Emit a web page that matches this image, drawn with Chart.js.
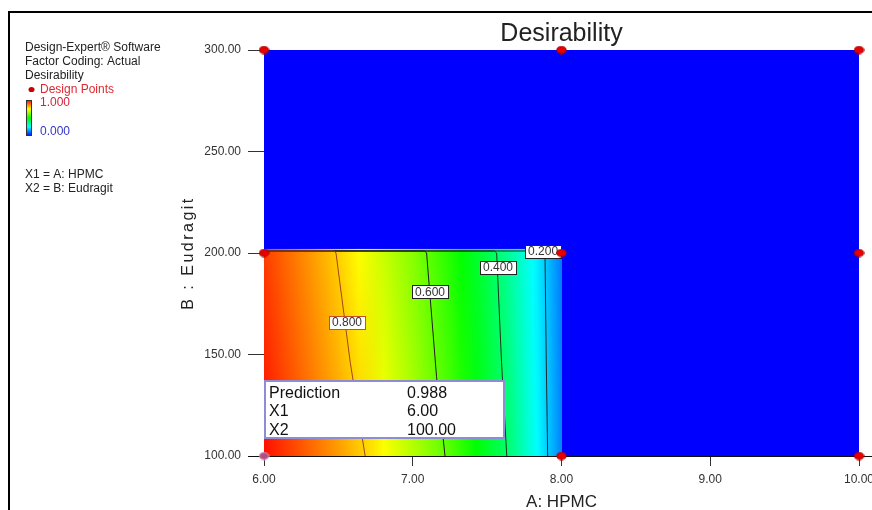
<!DOCTYPE html>
<html>
<head>
<meta charset="utf-8">
<script src="https://cdn.jsdelivr.net/npm/chart.js@4.4.1/dist/chart.umd.min.js"></script>
<style>
  html, body { margin: 0; padding: 0; background: #fff; overflow: hidden; }
  #wrap { position: relative; width: 872px; height: 510px; }
</style>
</head>
<body>
<div id="wrap"><canvas id="c" width="872" height="510"></canvas></div>
<script>
// ---- Axis ticks ----
const hpmcTicks = [6, 7, 8, 9, 10];
const eudragitTicks = [100, 150, 200, 250, 300];

// ---- Design points (A: HPMC, B: Eudragit) ----
const designA = [6, 6, 6, 8, 8, 8, 10, 10, 10];
const designB = [100, 200, 300, 100, 200, 300, 100, 200, 300];

// ---- Desirability field over the fitted region ----
const gridA = [6.0, 6.25, 6.5, 6.75, 7.0, 7.25, 7.5, 7.625, 7.75, 7.875, 8.0];
const gridB = [100, 202];
const desirAtLowB  = [0.988, 0.918, 0.848, 0.771, 0.679, 0.584, 0.464, 0.404, 0.314, 0.223, 0.13];
const desirAtHighB = [0.940, 0.868, 0.795, 0.713, 0.631, 0.533, 0.427, 0.362, 0.286, 0.209, 0.12];

// ---- Contour lines ----
const contourLevels = [0.8, 0.6, 0.4, 0.2];
const contourA = [
  [6.68, 6.58, 6.484, 6.47, 6.0],
  [7.217, 7.16, 7.093, 7.08, 6.0],
  [7.632, 7.597, 7.564, 7.55, 6.0],
  [7.907, 7.897, 7.889, 7.875, 6.0]
];
const contourB = [
  [100, 146, 200, 201, 201],
  [100, 139, 200, 201, 201],
  [100, 146, 200, 201, 201],
  [100, 150, 200, 201, 201]
];
const contourLabelA = [6.558, 7.116, 7.573, 7.876];
const contourLabelB = [166.0, 180.8, 193.1, 200.7];

// ---- Prediction flag ----
const predA = 6.00;
const predB = 100.00;
const predValue = 0.988;

const FONT = '"Liberation Sans", Arial, sans-serif';
const contourColors = ['#a8401e', '#1e1e1e', '#1e361e', '#1c2a2a'];
const labelBorders = ['#c05030', '#222', '#222', '#222'];

// Blue -> cyan -> green -> yellow -> red
const cmap = [
  [0.00, [0, 0, 255]],
  [0.25, [0, 255, 255]],
  [0.50, [0, 255, 0]],
  [0.75, [255, 255, 0]],
  [1.00, [255, 0, 0]]
];
function colorFor(v) {
  v = Math.max(0, Math.min(1, v));
  for (let i = 1; i < cmap.length; i++) {
    if (v <= cmap[i][0]) {
      const [v0, c0] = cmap[i - 1], [v1, c1] = cmap[i];
      const t = (v - v0) / (v1 - v0);
      const c = c0.map((a, k) => Math.round(a + (c1[k] - a) * t));
      return `rgb(${c[0]},${c[1]},${c[2]})`;
    }
  }
  return 'rgb(255,0,0)';
}
function interp(xs, ys, x) {
  if (x <= xs[0]) return ys[0];
  for (let i = 1; i < xs.length; i++) {
    if (x <= xs[i]) {
      const t = (x - xs[i - 1]) / (xs[i] - xs[i - 1]);
      return ys[i - 1] + (ys[i] - ys[i - 1]) * t;
    }
  }
  return ys[ys.length - 1];
}

function ellipseImg(fill, stroke, w, h) {
  const c = document.createElement('canvas');
  c.width = w; c.height = h;
  const g = c.getContext('2d');
  g.beginPath();
  g.ellipse(w / 2, h / 2, w / 2 - 0.8, h / 2 - 0.8, 0, 0, Math.PI * 2);
  g.fillStyle = fill; g.fill();
  g.lineWidth = 1; g.strokeStyle = stroke; g.stroke();
  return c;
}
const pointImg = ellipseImg('#e80000', '#a00000', 11, 9);
const flagImg = ellipseImg('#b0507e', '#d8a0c8', 11, 9);

// Desirability surface painted under the datasets
const fieldPlugin = {
  id: 'field',
  beforeDatasetsDraw(chart) {
    const { ctx, chartArea: area, scales: { x, y } } = chart;
    ctx.save();
    ctx.beginPath();
    ctx.rect(area.left, area.top, area.width, area.height);
    ctx.clip();
    ctx.fillStyle = colorFor(0);
    ctx.fillRect(area.left, area.top, area.width, area.height);
    const px0 = Math.round(x.getPixelForValue(gridA[0]));
    const px1 = Math.round(x.getPixelForValue(gridA[gridA.length - 1]));
    const yLow = y.getPixelForValue(gridB[0]);
    const yHigh = y.getPixelForValue(gridB[1]);
    for (let px = px0; px < px1; px++) {
      const a = x.getValueForPixel(px + 0.5);
      const g = ctx.createLinearGradient(0, yLow, 0, yHigh);
      g.addColorStop(0, colorFor(interp(gridA, desirAtLowB, a)));
      g.addColorStop(1, colorFor(interp(gridA, desirAtHighB, a)));
      ctx.fillStyle = g;
      ctx.fillRect(px, yHigh, 1, yLow - yHigh);
    }
    ctx.restore();
    // bottom axis line
    ctx.save();
    ctx.strokeStyle = '#111';
    ctx.lineWidth = 1;
    ctx.beginPath();
    ctx.moveTo(area.left - 16, Math.round(area.bottom) + 0.5);
    ctx.lineTo(chart.width, Math.round(area.bottom) + 0.5);
    ctx.stroke();
    ctx.restore();
  },
  afterDatasetDraw(chart, args) {
    // contour labels go on top of the last contour drawn, below the design points
    if (args.index !== 1) return;
    const { ctx, scales: { x, y } } = chart;
    ctx.save();
    ctx.font = `12px ${FONT}`;
    ctx.textAlign = 'center';
    ctx.textBaseline = 'middle';
    contourLevels.forEach((lv, k) => {
      const cx = x.getPixelForValue(contourLabelA[k]);
      const cy = y.getPixelForValue(contourLabelB[k]);
      const txt = lv.toFixed(3);
      const w = ctx.measureText(txt).width + 6;
      const h = 13;
      const bx = Math.round(cx - w / 2) + 0.5, by = Math.round(cy - h / 2) + 0.5;
      ctx.fillStyle = '#fff';
      ctx.fillRect(bx, by, w, h);
      ctx.strokeStyle = labelBorders[k];
      ctx.lineWidth = 1;
      ctx.strokeRect(bx, by, w, h);
      ctx.fillStyle = '#333';
      ctx.fillText(txt, cx, cy + 0.5);
    });
    ctx.restore();
  }
};

// Frame, title, side notes, axis titles, prediction box
const decorPlugin = {
  id: 'decor',
  afterDraw(chart) {
    const { ctx, chartArea: area, scales: { x, y } } = chart;
    ctx.save();
    // frame
    ctx.fillStyle = '#000';
    ctx.fillRect(8, 11, 864, 2);
    ctx.fillRect(8, 11, 2, 499);

    // title
    ctx.fillStyle = '#222';
    ctx.font = `25px ${FONT}`;
    ctx.textAlign = 'center';
    ctx.textBaseline = 'alphabetic';
    ctx.fillText('Desirability', (area.left + area.right) / 2, 41);

    // side notes
    ctx.textAlign = 'left';
    ctx.font = `12px ${FONT}`;
    ctx.fillStyle = '#222';
    ctx.fillText('Design-Expert\u00AE Software', 25, 51);
    ctx.fillText('Factor Coding: Actual', 25, 65);
    ctx.fillText('Desirability', 25, 79);
    ctx.fillStyle = '#e02830';
    ctx.fillText('Design Points', 40, 93);
    ctx.beginPath();
    ctx.ellipse(31.5, 89.5, 3, 2.6, 0, 0, Math.PI * 2);
    ctx.fillStyle = '#c80000';
    ctx.fill();
    // colour bar
    const gb = ctx.createLinearGradient(0, 100, 0, 136);
    cmap.forEach(([v]) => gb.addColorStop(1 - v, colorFor(v)));
    ctx.fillStyle = gb;
    ctx.fillRect(26, 100, 6, 36);
    ctx.strokeStyle = '#333';
    ctx.lineWidth = 1;
    ctx.strokeRect(26.5, 100.5, 5, 35);
    ctx.fillStyle = '#d8203c';
    ctx.fillText('1.000', 40, 106);
    ctx.fillStyle = '#3434c8';
    ctx.fillText('0.000', 40, 135);
    ctx.fillStyle = '#222';
    ctx.fillText('X1 = A: HPMC', 25, 178);
    ctx.fillText('X2 = B: Eudragit', 25, 192);

    // axis titles
    ctx.font = `17px ${FONT}`;
    ctx.textAlign = 'center';
    ctx.fillStyle = '#222';
    ctx.fillText('A: HPMC', (area.left + area.right) / 2, 507);
    ctx.save();
    ctx.translate(193, (area.top + area.bottom) / 2);
    ctx.rotate(-Math.PI / 2);
    ctx.font = `16px ${FONT}`;
    ctx.letterSpacing = '2.5px';
    ctx.fillText('B : Eudragit', 0, 0);
    ctx.restore();

    // prediction box
    const left = Math.round(x.getPixelForValue(predA)) + 1;
    const bottom = Math.round(y.getPixelForValue(predB)) - 18;
    const top = bottom - 57, width = 239;
    ctx.fillStyle = '#fff';
    ctx.fillRect(left, top, width, bottom - top);
    ctx.strokeStyle = '#8c8cd8';
    ctx.lineWidth = 2;
    ctx.strokeRect(left, top, width, bottom - top);
    ctx.font = `16px ${FONT}`;
    ctx.textAlign = 'left';
    ctx.fillStyle = '#111';
    const rows = [['Prediction', predValue.toFixed(3)], ['X1', predA.toFixed(2)], ['X2', predB.toFixed(2)]];
    rows.forEach(([k, v], i) => {
      ctx.fillText(k, left + 4, top + 17 + i * 18.3);
      ctx.fillText(v, left + 142, top + 17 + i * 18.3);
    });
    ctx.restore();
  }
};

const datasets = [
  {
    label: 'Design Points',
    data: designA.map((a, i) => ({ x: a, y: designB[i] })),
    pointStyle: designA.map((a, i) => (a === predA && designB[i] === predB) ? flagImg : pointImg),
    pointRadius: 5,
    pointHoverRadius: 5,
    showLine: false,
    clip: false
  }
].concat(contourLevels.map((lv, k) => ({
  type: 'line',
  label: lv.toFixed(3),
  data: contourA[k].map((a, i) => ({ x: a, y: contourB[k][i] })),
  borderColor: contourColors[k],
  borderWidth: 1,
  pointRadius: 0,
  fill: false,
  tension: 0
})));

new Chart(document.getElementById('c'), {
  type: 'scatter',
  data: { datasets },
  options: {
    responsive: false,
    animation: false,
    events: [],
    layout: { padding: { left: 0, right: 13, top: 50, bottom: 0 } },
    plugins: { legend: { display: false }, tooltip: { enabled: false }, title: { display: false } },
    scales: {
      x: {
        type: 'linear', min: 6, max: 10,
        afterBuildTicks: s => { s.ticks = hpmcTicks.map(v => ({ value: v })); },
        ticks: { callback: v => Number(v).toFixed(2), color: '#333', font: { family: FONT, size: 12 }, padding: 6, maxRotation: 0, autoSkip: false },
        grid: { drawOnChartArea: false, drawTicks: true, tickLength: 10, color: '#333' },
        border: { display: false },
        afterFit: s => { s.height = 54; s.paddingLeft = 0; s.paddingRight = 0; }
      },
      y: {
        type: 'linear', min: 100, max: 300,
        afterBuildTicks: s => { s.ticks = eudragitTicks.map(v => ({ value: v })); },
        ticks: { callback: v => Number(v).toFixed(2), color: '#333', font: { family: FONT, size: 12 }, padding: 7, autoSkip: false },
        grid: { drawOnChartArea: false, drawTicks: true, tickLength: 16, color: '#333' },
        border: { display: false },
        afterFit: s => { s.width = 264; s.paddingTop = 0; s.paddingBottom = 0; }
      }
    }
  },
  plugins: [fieldPlugin, decorPlugin]
});
</script>
</body>
</html>
